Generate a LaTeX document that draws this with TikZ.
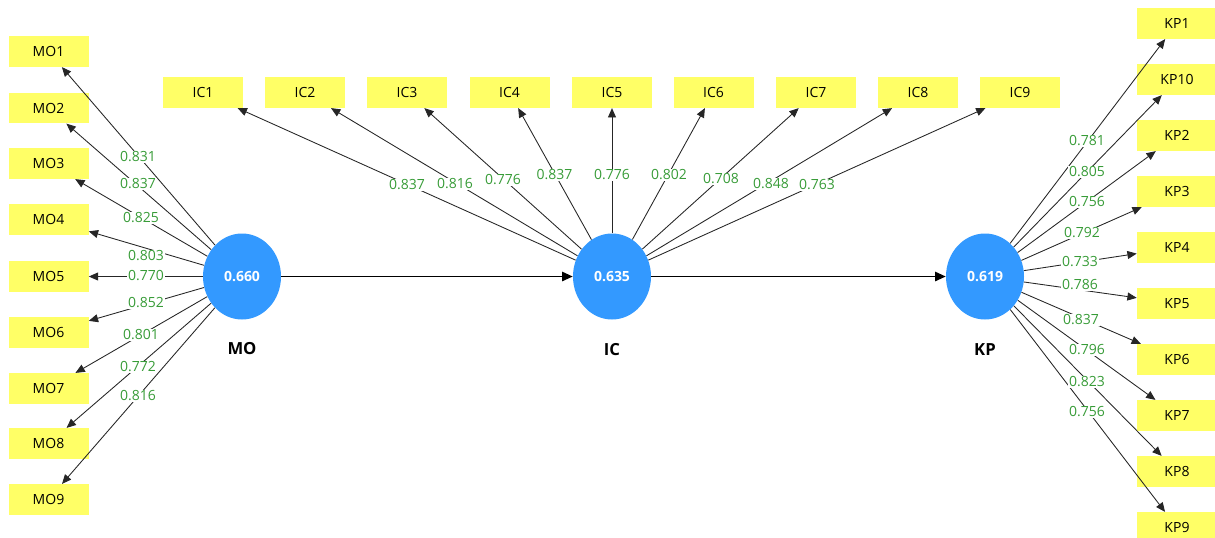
\documentclass[tikz,border=0pt]{standalone}
\usepackage{fontspec}
\setmainfont{Open Sans}
\usetikzlibrary{arrows.meta,shapes.geometric}
\definecolor{boxyellow}{RGB}{255,255,102}
\definecolor{lvblue}{RGB}{51,153,255}
\definecolor{wgreen}{RGB}{56,156,56}
\begin{document}
\begin{tikzpicture}[x=0.75pt,y=-0.75pt,
 ind/.style={rectangle, fill=boxyellow, minimum width=60pt, minimum height=23pt, inner sep=0pt, font=\fontsize{10.5}{12}\selectfont},
 lv/.style={ellipse, fill=lvblue, minimum width=58.5pt, minimum height=64.5pt, inner sep=0pt, text=white, font=\bfseries\fontsize{10.5}{12}\selectfont},
 lvname/.style={font=\bfseries\fontsize{12.5}{14}\selectfont},
 load/.style={-{Triangle[length=7pt,width=6pt]}, line width=0.65pt, draw=black!85},
 struct/.style={-{Triangle[length=8pt,width=7pt]}, line width=1.3pt},
 wt/.style={fill=white, inner sep=0.6pt, text=wgreen, font=\fontsize{10.5}{12}\selectfont}]
\useasboundingbox (0,0) rectangle (1215,537);

% latent variables
\node[lv] (mo) at (242,276.5) {0.660};
\node[lv] (ic) at (612,276.5) {0.635};
\node[lv] (kp) at (985,276.5) {0.619};
\node[lvname] (moname) at (242,349) {MO};
\node[lvname] (icname) at (612,350) {IC};
\node[lvname] (kpname) at (985,350) {KP};

% MO indicators
\node[ind] (mo1) at (48.5,51.5) {MO1};
\node[ind] (mo2) at (48.5,108) {MO2};
\node[ind] (mo3) at (48.5,163.5) {MO3};
\node[ind] (mo4) at (48.5,219.5) {MO4};
\node[ind] (mo5) at (48.5,276.5) {MO5};
\node[ind] (mo6) at (48.5,332.5) {MO6};
\node[ind] (mo7) at (48.5,388.5) {MO7};
\node[ind] (mo8) at (48.5,443.5) {MO8};
\node[ind] (mo9) at (48.5,499.5) {MO9};

% IC indicators
\node[ind] (ic1) at (203,92.5) {IC1};
\node[ind] (ic2) at (305,92.5) {IC2};
\node[ind] (ic3) at (407,92.5) {IC3};
\node[ind] (ic4) at (509.5,92.5) {IC4};
\node[ind] (ic5) at (612,92.5) {IC5};
\node[ind] (ic6) at (713.5,92.5) {IC6};
\node[ind] (ic7) at (816,92.5) {IC7};
\node[ind] (ic8) at (918,92.5) {IC8};
\node[ind] (ic9) at (1020,92.5) {IC9};

% KP indicators
\node[ind] (kp1) at (1177,23.5) {KP1};
\node[ind] (kp10) at (1177,79.5) {KP10};
\node[ind] (kp2) at (1177,135.5) {KP2};
\node[ind] (kp3) at (1177,191.5) {KP3};
\node[ind] (kp4) at (1177,247.5) {KP4};
\node[ind] (kp5) at (1177,303.5) {KP5};
\node[ind] (kp6) at (1177,359.5) {KP6};
\node[ind] (kp7) at (1177,415.5) {KP7};
\node[ind] (kp8) at (1177,471.5) {KP8};
\node[ind] (kp9) at (1177,527.5) {KP9};

% structural paths
\draw[struct] (mo) -- (ic);
\draw[struct] (ic) -- (kp);

% loadings
\foreach \i in {1,...,9} {\draw[load] (mo) -- (mo\i);}
\foreach \i in {1,...,9} {\draw[load] (ic) -- (ic\i);}
\foreach \i in {1,10,2,3,4,5,6,7,8,9} {\draw[load] (kp) -- (kp\i);}

% loading values MO
\node[wt] (wmo1) at (138,157) {0.831};
\node[wt] (wmo2) at (138,184) {0.837};
\node[wt] (wmo3) at (141,218) {0.825};
\node[wt] (wmo4) at (146,256) {0.803};
\node[wt] (wmo5) at (146,276) {0.770};
\node[wt] (wmo6) at (146,303) {0.852};
\node[wt] (wmo7) at (141,335) {0.801};
\node[wt] (wmo8) at (138,367) {0.772};
\node[wt] (wmo9) at (138,396) {0.816};

% loading values IC
\node[wt] (wic1) at (407,185) {0.837};
\node[wt] (wic2) at (455,184) {0.816};
\node[wt] (wic3) at (503,180) {0.776};
\node[wt] (wic4) at (554.5,175) {0.837};
\node[wt] (wic5) at (612,175) {0.776};
\node[wt] (wic6) at (669,175) {0.802};
\node[wt] (wic7) at (721,179) {0.708};
\node[wt] (wic8) at (771,184) {0.848};
\node[wt] (wic9) at (817,185) {0.763};

% loading values KP
\node[wt] (wkp1) at (1087,141) {0.781};
\node[wt] (wkp10) at (1087,172) {0.805};
\node[wt] (wkp2) at (1087,202) {0.756};
\node[wt] (wkp3) at (1082,233) {0.792};
\node[wt] (wkp4) at (1080,262) {0.733};
\node[wt] (wkp5) at (1080,285) {0.786};
\node[wt] (wkp6) at (1081,320) {0.837};
\node[wt] (wkp7) at (1087,350) {0.796};
\node[wt] (wkp8) at (1087,382) {0.823};
\node[wt] (wkp9) at (1087,412) {0.756};
\end{tikzpicture}
\end{document}
